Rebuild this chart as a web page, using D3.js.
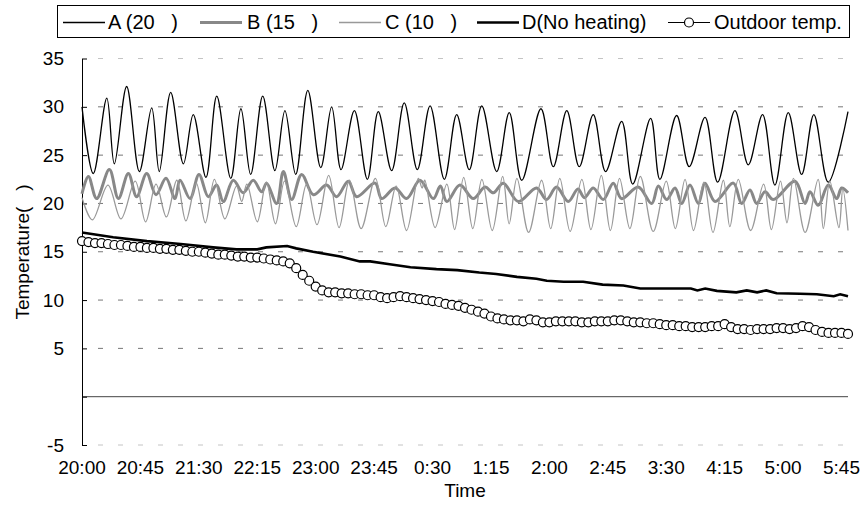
<!DOCTYPE html>
<html>
<head>
<meta charset="utf-8">
<script src="https://cdn.jsdelivr.net/npm/d3@7"></script>
<style>
  body { margin: 0; background: #fff; }
  svg { font-family: "Liberation Sans", Arial, sans-serif; }
</style>
</head>
<body>
<svg></svg>
<script>
// x labels every 45 minutes, starting 20:00
var tickLabels = ["20:00", "20:45", "21:30", "22:15", "23:00", "23:45", "0:30",
  "1:15", "2:00", "2:45", "3:30", "4:15", "5:00", "5:45"];
var yTicks = [-5, 0, 5, 10, 15, 20, 25, 30, 35];

var seriesNames = ["A (20\u00a0\u00a0\u00a0)", "B (15\u00a0\u00a0\u00a0)", "C (10\u00a0\u00a0\u00a0)",
  "D(No heating)", "Outdoor temp."];

// minutes after 20:00 / temperature
var aTime = [0, 8.7, 19.1, 24.9, 34.4, 44.2, 53.7, 59.5, 68.3, 78.1, 85.7, 95.5, 103.8, 114.6,
  122.4, 129.9, 139.2, 148.6, 156.3, 164.6, 173.9, 183.9, 192.3, 199.5, 209.8, 219.8, 228.2,
  238.5, 248.2, 258.3, 268.1, 279.1, 288.6, 298.3, 307.9, 319.4, 329.1, 338.7, 353.5, 363,
  373.4, 383, 393.8, 403.3, 415.7, 424.2, 438, 445.1, 458, 467.7, 479.9, 489.6, 502.9, 513.2,
  524.2, 533.7, 544, 554.3, 563.7, 574.8, 590];
var aTemp = [30.0, 23.1, 30.9, 24.1, 32.1, 23.3, 29.9, 23.3, 31.5, 24.1, 29.2, 22.7, 31.1, 22.6,
  29.8, 23.0, 31.1, 23.4, 29.6, 23.0, 31.7, 23.7, 30.0, 23.5, 29.6, 22.5, 29.5,
  23.4, 30.4, 23.5, 30.1, 22.5, 29.2, 23.5, 30.1, 23.3, 29.4, 22.4, 29.8, 23.8,
  29.6, 23.8, 29.2, 23.3, 28.5, 22.0, 28.8, 22.5, 29.1, 23.8, 28.9, 22.2, 29.6, 24.0,
  29.2, 21.9, 29.4, 23.0, 29.2, 22.2, 29.5];

var bTime = [0, 4.9, 11.3, 21.1, 28, 35.7, 42.1, 49.8, 57, 64.7, 71.6, 75.5, 83.2, 90.1, 97.3,
  103.7, 108.8, 116.5, 124.2, 131.9, 138.4, 142.2, 149.9, 155.1, 161.5, 169.2, 178.2, 188.4,
  196.1, 205.1, 211.5, 225.7, 230.8, 241.1, 250, 260.3, 270.6, 276, 281, 291.1, 301.4, 310.4,
  316.8, 324.5, 336, 350.1, 357.8, 365.5, 374.5, 382, 387, 393.8, 401.5, 409.2, 415.6, 428.4,
  438.8, 443.9, 450.3, 456.8, 461.9, 468.3, 474.7, 479.9, 487.6, 501.7, 508.1, 514.5, 519.6,
  526.1, 532.5, 549.2, 556.9, 560.7, 567.1, 574.8, 581.3, 585.1, 590];
var bTemp = [21.0, 22.8, 20.5, 23.5, 20.5, 23.1, 20.7, 23.1, 20.9, 22.6, 20.5, 22.4, 20.5, 23.0, 20.7,
  21.9, 20.2, 22.4, 21.1, 22.4, 21.2, 22.1, 20.0, 23.3, 20.4, 23.0, 20.9, 21.9,
  20.7, 22.3, 20.7, 22.1, 20.5, 21.6, 20.5, 22.4, 20.5, 21.8, 20.2, 21.9, 20.5, 21.7,
  21.1, 22.1, 20.2, 21.6, 20.4, 21.7, 20.2, 21.5, 20.6, 21.6, 20.4, 22.1, 20.5, 21.7,
  20.0, 21.8, 20.4, 21.6, 20.0, 21.9, 20.0, 22.1, 20.2, 22.1, 20.0, 21.4, 20.0,
  21.2, 20.4, 22.3, 20.0, 21.2, 19.8, 21.9, 20.5, 21.6, 21.1];

var cTime = [0, 8, 20, 30, 41, 49, 57, 65, 73, 80, 88, 95, 102, 110, 119, 123, 127, 135, 142, 149,
  156, 165, 173, 181, 190, 198, 206, 215, 226, 234, 242, 250, 259, 262, 264, 272, 281, 287, 294,
  301, 308, 316, 324, 329, 335, 344, 354, 361, 368, 376, 385, 392, 400, 407, 414, 422, 430, 440,
  450, 457, 464.5, 471, 479, 486, 494, 499, 505.5, 515, 525, 531, 538, 543, 548, 557, 567, 571,
  576, 583, 586, 590];
var cTemp = [20.6, 18.3, 21.9, 18.4, 22.3, 18.1, 22.0, 18.6, 22.4, 18.2, 22.1, 18.0, 22.5, 18.4, 21.8, 20.2, 22.0, 18.1, 22.2, 17.9,
  22.3, 17.6, 22.0, 17.8, 22.9, 17.5, 22.4, 17.4, 22.6, 17.6, 21.8, 17.2, 22.6, 21.6, 22.4, 17.5, 22.0, 17.3, 22.7,
  17.4, 22.5, 17.2, 22.8, 17.9, 22.6, 17.0, 22.4, 17.4, 22.6, 17.1, 22.5, 17.3, 22.9, 17.2, 22.6, 17.4, 22.8, 17.1,
  22.3, 17.4, 22.5, 17.2, 22.2, 17.0, 22.4, 17.6, 22.5, 17.2, 22.0, 17.3, 22.3, 18.0, 22.6, 17.0, 22.5, 17.4,
  22.3, 17.5, 21.5, 17.2];

var dTime = [0, 24, 50, 76, 101, 119, 135, 142, 158, 165, 178, 199, 214, 222, 237, 253, 273, 289,
  306, 319, 335, 350, 358, 371, 386, 401, 417, 430, 438, 469, 474, 480, 489, 504, 512, 520, 527,
  535, 553, 566, 579, 584, 590];
var dTemp = [17.0, 16.5, 16.1, 15.8, 15.45, 15.25, 15.25, 15.45, 15.6, 15.35, 15.0, 14.5, 14.0, 14.0, 13.7, 13.4, 13.2, 13.1,
  12.85, 12.7, 12.4, 12.2, 12.0, 11.9, 11.9, 11.6, 11.5, 11.2, 11.2, 11.2, 11.0, 11.2, 10.95, 10.8, 11.0, 10.8, 11.0,
  10.7, 10.65, 10.6, 10.4, 10.6, 10.4];

// outdoor temperature, one reading every 5 minutes from 20:00 to 5:50
var outdoorTemp = [16.1, 16.0, 15.9, 15.9, 15.8, 15.7, 15.7, 15.6, 15.5, 15.5,
  15.4, 15.4, 15.3, 15.3, 15.2, 15.2, 15.1, 15.0, 15.0, 14.9,
  14.8, 14.7, 14.7, 14.6, 14.5, 14.5, 14.4, 14.4, 14.3, 14.2,
  14.1, 14.0, 13.8, 13.3, 12.6, 12.0, 11.4, 11.0, 10.8, 10.8,
  10.7, 10.7, 10.6, 10.6, 10.5, 10.5, 10.3, 10.2, 10.3, 10.4,
  10.3, 10.2, 10.1, 10.0, 9.9, 9.8, 9.6, 9.5, 9.4, 9.2,
  9.0, 8.8, 8.6, 8.3, 8.1, 8.0, 7.9, 7.9, 7.8, 8.0,
  7.9, 7.7, 7.7, 7.8, 7.8, 7.8, 7.8, 7.7, 7.7, 7.8,
  7.8, 7.8, 7.9, 7.9, 7.8, 7.7, 7.7, 7.6, 7.6, 7.5,
  7.4, 7.4, 7.3, 7.3, 7.2, 7.2, 7.2, 7.3, 7.3, 7.5,
  7.2, 7.0, 7.0, 6.9, 7.0, 7.0, 7.0, 7.1, 7.1, 7.0,
  7.1, 7.3, 7.2, 6.9, 6.7, 6.6, 6.6, 6.6, 6.5];

var svg = d3.select("svg").attr("width", 867).attr("height", 511);

var x = d3.scaleLinear().domain([0, 590]).range([82, 848]);
var y = d3.scaleLinear().domain([-5, 35]).range([445, 58.5]);

function pairs(t, v) {
  return t.map(function(d, i) { return [d, v[i]]; });
}

// gridlines (dashed), zero line solid
svg.selectAll("line.grid")
  .data(yTicks.filter(function(d) { return d !== 0; }))
  .enter().append("line")
  .attr("class", "grid")
  .attr("x1", x(0) + 16).attr("x2", x(590))
  .attr("y1", function(d) { return y(d); })
  .attr("y2", function(d) { return y(d); })
  .attr("stroke", function(d) { return (d === 35 || d === -5) ? "#c4c4c4" : "#777"; })
  .attr("stroke-width", 1)
  .attr("stroke-dasharray", "5,15");

svg.append("line")
  .attr("x1", x(0)).attr("x2", x(590))
  .attr("y1", y(0)).attr("y2", y(0))
  .attr("stroke", "#444").attr("stroke-width", 1);

// y axis
var yAxis = svg.append("g")
  .attr("transform", "translate(" + x(0) + ",0)")
  .call(d3.axisLeft(y).tickValues(yTicks)
    .tickFormat(function(d) { return d === 0 ? "" : d; })
    .tickSizeInner(-5).tickSizeOuter(0).tickPadding(18));
yAxis.select(".domain").attr("stroke", "#000");
yAxis.selectAll("text").attr("font-size", 19).attr("fill", "#000")
  .attr("font-family", "Liberation Sans, Arial, sans-serif");

// x labels
svg.selectAll("text.xlab")
  .data(tickLabels).enter().append("text")
  .attr("class", "xlab")
  .attr("x", function(d, i) { return x(i * 45); })
  .attr("y", 474)
  .attr("text-anchor", "middle")
  .attr("font-size", 19)
  .text(function(d) { return d; });

svg.append("text")
  .attr("x", 465).attr("y", 497)
  .attr("text-anchor", "middle")
  .attr("font-size", 19)
  .text("Time");

svg.append("text")
  .attr("transform", "translate(29,252) rotate(-90)")
  .attr("text-anchor", "middle")
  .attr("font-size", 19)
  .text("Temperature(\u00a0\u00a0\u00a0)");

// series
var line = d3.line()
  .x(function(d) { return x(d[0]); })
  .y(function(d) { return y(d[1]); });

var styles = [
  { stroke: "#000", width: 1.3 },
  { stroke: "#888", width: 3 },
  { stroke: "#999", width: 1.3 },
  { stroke: "#000", width: 2.6 },
  { stroke: "#000", width: 1.2 }
];

svg.append("path").datum(pairs(aTime, aTemp))
  .attr("d", line.curve(d3.curveCatmullRom.alpha(0.5)))
  .attr("fill", "none").attr("stroke", styles[0].stroke).attr("stroke-width", styles[0].width);

svg.append("path").datum(pairs(bTime, bTemp))
  .attr("d", line.curve(d3.curveCatmullRom.alpha(0.5)))
  .attr("fill", "none").attr("stroke", styles[1].stroke).attr("stroke-width", styles[1].width);

svg.append("path").datum(pairs(cTime, cTemp))
  .attr("d", line.curve(d3.curveCatmullRom.alpha(0.5)))
  .attr("fill", "none").attr("stroke", styles[2].stroke).attr("stroke-width", styles[2].width);

svg.append("path").datum(pairs(dTime, dTemp))
  .attr("d", line.curve(d3.curveLinear))
  .attr("fill", "none").attr("stroke", styles[3].stroke).attr("stroke-width", styles[3].width);

var outdoor = outdoorTemp.map(function(v, i) { return [i * 5, v]; });
svg.append("path").datum(outdoor)
  .attr("d", line.curve(d3.curveLinear))
  .attr("fill", "none").attr("stroke", "#000").attr("stroke-width", 1.2);
svg.selectAll("circle.out")
  .data(outdoor).enter().append("circle")
  .attr("class", "out")
  .attr("cx", function(d) { return x(d[0]); })
  .attr("cy", function(d) { return y(d[1]); })
  .attr("r", 4.5)
  .attr("fill", "#fff").attr("stroke", "#000").attr("stroke-width", 1.2);

// legend
var legendPos = [
  { line: 63, text: 108 },
  { line: 200, text: 247 },
  { line: 339, text: 385 },
  { line: 477, text: 522 },
  { line: 668, text: 714 }
];

svg.append("rect")
  .attr("x", 57.5).attr("y", 5.5).attr("width", 792).attr("height", 32)
  .attr("fill", "#fff").attr("stroke", "#000").attr("stroke-width", 1);

var legend = svg.selectAll("g.leg")
  .data(seriesNames).enter().append("g")
  .attr("class", "leg");

legend.append("line")
  .attr("x1", function(d, i) { return legendPos[i].line; })
  .attr("x2", function(d, i) { return legendPos[i].line + 42; })
  .attr("y1", 22.5).attr("y2", 22.5)
  .attr("stroke", function(d, i) { return styles[i].stroke; })
  .attr("stroke-width", function(d, i) { return styles[i].width; });

legend.append("text")
  .attr("x", function(d, i) { return legendPos[i].text; })
  .attr("y", 29)
  .attr("font-size", 20)
  .text(function(d) { return d; });

svg.append("circle")
  .attr("cx", legendPos[4].line + 21).attr("cy", 22.5).attr("r", 4.5)
  .attr("fill", "#fff").attr("stroke", "#000").attr("stroke-width", 1.2);
</script>
</body>
</html>
